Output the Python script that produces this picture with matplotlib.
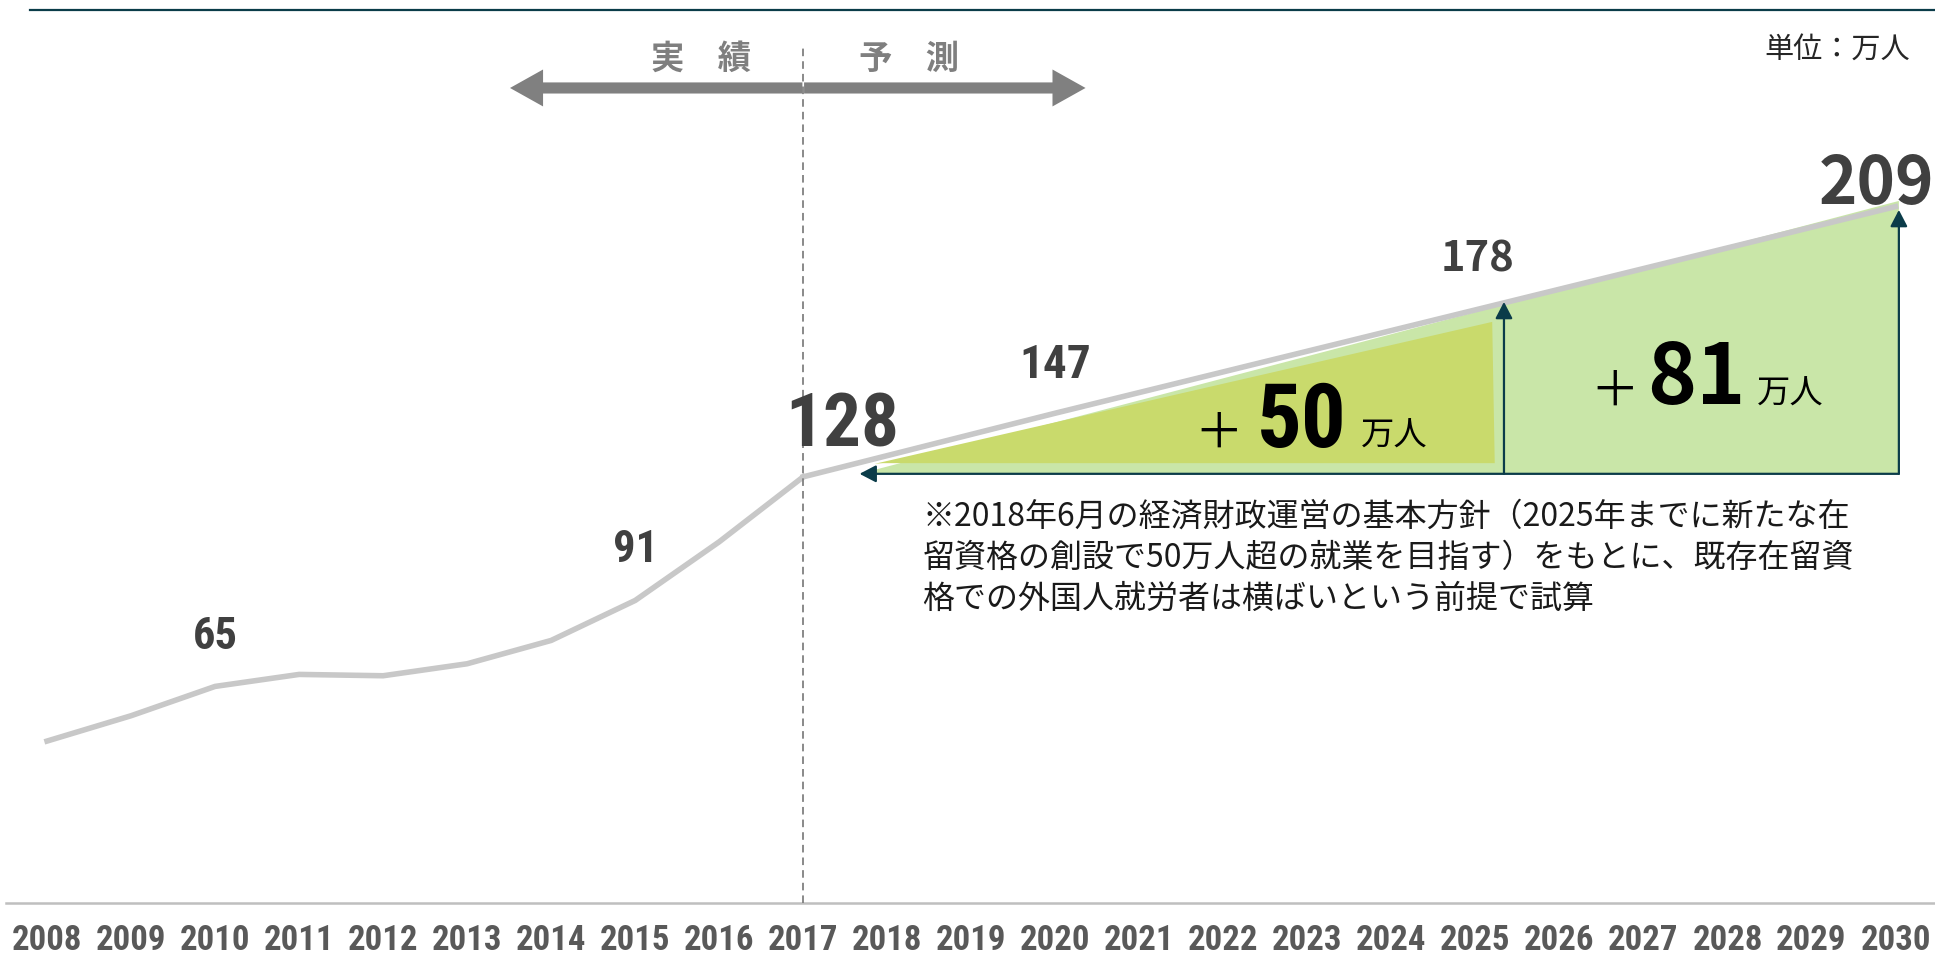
import matplotlib
matplotlib.use("Agg")
import matplotlib.pyplot as plt
from matplotlib import font_manager
from matplotlib.patches import Polygon, FancyArrowPatch

# data (万人)
years = list(range(2008, 2031))
actual_years = [2008, 2009, 2010, 2011, 2012, 2013, 2014, 2015, 2016, 2017]
actual_vals = [48.6, 56.2, 65.0, 68.6, 68.2, 71.8, 78.8, 90.8, 108.4, 127.9]
proj_years = [2017, 2020, 2025, 2030]
proj_vals = [127.9, 147, 178, 209]

label_years = [2010, 2015, 2017, 2020, 2025, 2030]
label_vals = [65, 91, 128, 147, 178, 209]

gain_50 = 50
gain_81 = 81
note_lines = [
    "※2018年6月の経済財政運営の基本方針（2025年までに新たな在",
    "留資格の創設で50万人超の就業を目指す）をもとに、既存在留資",
    "格での外国人就労者は横ばいという前提で試算",
]

plt.rcParams["font.family"] = ["Noto Sans CJK JP", "DejaVu Sans"]
names = {f.name for f in font_manager.fontManager.ttflist}
narrow = next((n for n in ["Liberation Sans Narrow", "Roboto Condensed", "Arial Narrow"] if n in names), "DejaVu Sans")
NARROW = [narrow, "DejaVu Sans"]

LINE = "#c8c8c8"
TEAL = "#0b3c49"
DARK = "#404040"

fig = plt.figure(figsize=(19.35, 9.59), dpi=100)
ax = fig.add_axes([0, 1 - 903 / 959, 1, 893 / 959])
ax.set_xlim(2007.44, 2030.47)
ax.set_ylim(0, 268)
for s in ax.spines.values():
    s.set_visible(False)
ax.set_yticks([])
ax.set_xticks(years)
ax.set_xticklabels([str(y) for y in years], family=NARROW, fontweight="bold",
                   fontsize=25, color="#595959")
ax.tick_params(axis="x", length=0, pad=15)

# frame lines
ax.axhline(0, xmin=6 / 1935, color="#bfbfbf", lw=1.8, clip_on=False)
ax.axhline(268, xmin=30 / 1935, color=TEAL, lw=1.6, clip_on=False)

# green areas
base = 128.8
ax.add_patch(Polygon([(2017.67, base), (2030.04, 210.7), (2030.04, base)],
                     closed=True, fc="#c9e6a8", ec="none", zorder=1))
ax.add_patch(Polygon([(2017.85, 131.8), (2025.2, 174.4), (2025.23, 132.0), (2017.95, 132.0)],
                     closed=True, fc="#c9da6c", ec="none", zorder=2))

# main line
ax.plot(actual_years, actual_vals, color=LINE, lw=4, zorder=3, solid_joinstyle="round")
ax.plot(proj_years, proj_vals, color=LINE, lw=4, zorder=3, solid_joinstyle="round")

# dashed divider
ax.plot([2017, 2017], [0, 256.9], color="#808080", lw=1.3, ls=(0, (4.2, 2.8)), zorder=5)

# 実績 / 予測 arrow
for end in (2013.51, 2020.36):
    start = 2017 - 0.01 if end < 2017 else 2017 + 0.01
    ax.add_patch(FancyArrowPatch((start, 244.6), (end, 244.6),
                                 arrowstyle="simple,head_length=23.8,head_width=26.6,tail_width=8",
                                 mutation_scale=1, shrinkA=0, shrinkB=0,
                                 fc="#808080", ec="none", lw=0, zorder=4))
ax.text(2015.78, 250.3, "実　績", ha="center", va="baseline", fontsize=24,
        fontweight="bold", color="#7f7f7f")
ax.text(2018.26, 250.3, "予　測", ha="center", va="baseline", fontsize=24,
        fontweight="bold", color="#7f7f7f")
ax.text(2030.17, 253.6, "単位：万人", ha="right", va="baseline", fontsize=21, color="#262626")

# teal arrows
arrow_kw = dict(arrowstyle="-|>,head_length=10,head_width=5.2", mutation_scale=1,
                shrinkA=0, shrinkB=0, color=TEAL, lw=1.6, zorder=6)
ax.add_patch(FancyArrowPatch((2030.04, base), (2017.67, base), **arrow_kw))
ax.add_patch(FancyArrowPatch((2025.34, base), (2025.34, 180.4), **arrow_kw))
ax.add_patch(FancyArrowPatch((2030.04, base), (2030.04, 208.0), **arrow_kw))

# value labels
label_dx = [0.0, 0.0, 0.46, 0.0, 0.02, -0.22]
label_dy = [11.2, 11.3, 9.0, 10.7, 11.5, 0.8]
label_size = [32, 32, 54, 34, 30, 47]
label_narrow = [True, True, True, True, False, False]
for yr, v, dx, dy, fs, nr in zip(label_years, label_vals, label_dx, label_dy, label_size, label_narrow):
    fam = NARROW if nr else ["Noto Sans CJK JP", "DejaVu Sans"]
    ax.text(yr + dx, v + dy, str(v), ha="center", va="baseline", fontsize=fs,
            fontweight="bold", color=DARK, family=fam, zorder=7)

# gain labels
ax.text(2021.95, 136.7, "＋", ha="center", va="baseline", fontsize=35, color="black", zorder=7)
ax.text(2022.93, 136.9, str(gain_50), ha="center", va="baseline", fontsize=64,
        fontweight="bold", family=NARROW, color="black", zorder=7)
ax.text(2024.04, 137.4, "万人", ha="center", va="baseline", fontsize=24, color="black", zorder=7)

ax.text(2026.66, 149.3, "＋", ha="center", va="baseline", fontsize=35, color="black", zorder=7)
ax.text(2027.63, 149.9, str(gain_81), ha="center", va="baseline", fontsize=60,
        fontweight="bold", color="black", zorder=7)
ax.text(2028.75, 150.0, "万人", ha="center", va="baseline", fontsize=24, color="black", zorder=7)

# note
for i, line in enumerate(note_lines):
    ax.text(2018.42, 113.4 - i * 12.45, line, ha="left", va="baseline", fontsize=23,
            color="#1a1a1a", zorder=7)

fig.savefig("out.png", dpi=100)
